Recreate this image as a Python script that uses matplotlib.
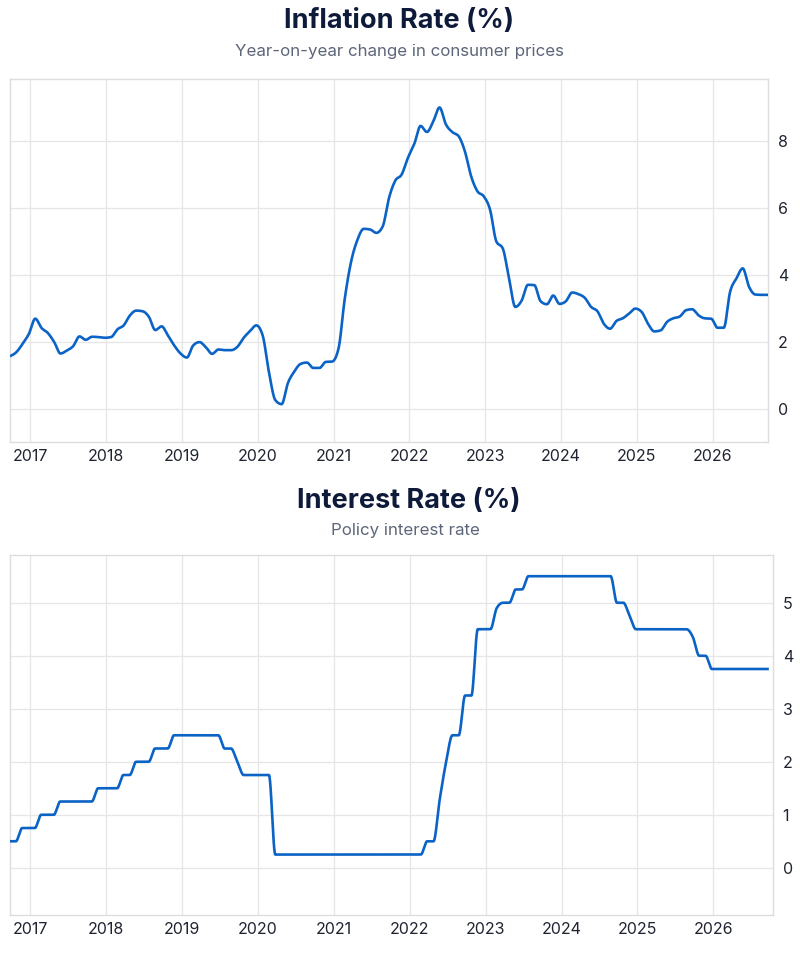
import numpy as np
import pandas as pd
import matplotlib
matplotlib.use("Agg")
import matplotlib.pyplot as plt

# ---------------- data ----------------
months = pd.period_range("2016-10", "2026-10", freq="M")  # monthly observations

inflation = [
    1.58, 1.70, 1.95, 2.25, 2.70, 2.42, 2.27, 2.00, 1.66, 1.75,   # 2016-10 .. 2017-07
    1.88, 2.17, 2.07, 2.16, 2.15, 2.13, 2.15, 2.38, 2.50, 2.80,   # 2017-08 .. 2018-05
    2.94, 2.92, 2.75, 2.36, 2.47, 2.20, 1.90, 1.66, 1.54, 1.90,   # 2018-06 .. 2019-03
    2.00, 1.85, 1.65, 1.78, 1.76, 1.76, 1.86, 2.13, 2.33, 2.50,   # 2019-04 .. 2020-01
    2.20, 1.10, 0.27, 0.15, 0.78, 1.12, 1.35, 1.39, 1.23, 1.23,   # 2020-02 .. 2020-11
    1.41, 1.42, 1.80, 3.30, 4.40, 5.05, 5.38, 5.36, 5.26, 5.45,   # 2020-12 .. 2021-09
    6.30, 6.82, 7.00, 7.50, 7.91, 8.45, 8.27, 8.58, 9.00, 8.50,   # 2021-10 .. 2022-07
    8.27, 8.15, 7.70, 6.95, 6.50, 6.35, 5.95, 5.00, 4.80, 3.90,   # 2022-08 .. 2023-05
    3.05, 3.24, 3.71, 3.70, 3.22, 3.13, 3.39, 3.14, 3.22, 3.48,   # 2023-06 .. 2024-03
    3.43, 3.32, 3.05, 2.92, 2.55, 2.40, 2.63, 2.71, 2.85, 3.00,   # 2024-04 .. 2025-01
    2.90, 2.55, 2.32, 2.35, 2.60, 2.71, 2.76, 2.95, 2.98, 2.80,   # 2025-02 .. 2025-11
    2.71, 2.70, 2.43, 2.43, 3.50, 3.90, 4.20, 3.65, 3.42, 3.41,   # 2025-12 .. 2026-09
    3.41,                                                         # 2026-10
]

interest = [
    0.50, 0.50, 0.75, 0.75, 0.75, 1.00, 1.00, 1.00, 1.25, 1.25,   # 2016-10 .. 2017-07
    1.25, 1.25, 1.25, 1.25, 1.50, 1.50, 1.50, 1.50, 1.75, 1.75,   # 2017-08 .. 2018-05
    2.00, 2.00, 2.00, 2.25, 2.25, 2.25, 2.50, 2.50, 2.50, 2.50,   # 2018-06 .. 2019-03
    2.50, 2.50, 2.50, 2.50, 2.25, 2.25, 2.00, 1.75, 1.75, 1.75,   # 2019-04 .. 2020-01
    1.75, 1.75, 0.25, 0.25, 0.25, 0.25, 0.25, 0.25, 0.25, 0.25,   # 2020-02 .. 2020-11
    0.25, 0.25, 0.25, 0.25, 0.25, 0.25, 0.25, 0.25, 0.25, 0.25,   # 2020-12 .. 2021-09
    0.25, 0.25, 0.25, 0.25, 0.25, 0.25, 0.50, 0.50, 1.30, 2.00,   # 2021-10 .. 2022-07
    2.50, 2.50, 3.25, 3.25, 4.50, 4.50, 4.50, 4.90, 5.00, 5.00,   # 2022-08 .. 2023-05
    5.25, 5.25, 5.50, 5.50, 5.50, 5.50, 5.50, 5.50, 5.50, 5.50,   # 2023-06 .. 2024-03
    5.50, 5.50, 5.50, 5.50, 5.50, 5.50, 5.00, 5.00, 4.75, 4.50,   # 2024-04 .. 2025-01
    4.50, 4.50, 4.50, 4.50, 4.50, 4.50, 4.50, 4.50, 4.35, 4.00,   # 2025-02 .. 2025-11
    4.00, 3.75, 3.75, 3.75, 3.75, 3.75, 3.75, 3.75, 3.75, 3.75,   # 2025-12 .. 2026-09
    3.75,                                                         # 2026-10
]

year_ticks = [2017, 2018, 2019, 2020, 2021, 2022, 2023, 2024, 2025, 2026]
infl_yticks = [0, 2, 4, 6, 8]
rate_yticks = [0, 1, 2, 3, 4, 5]

titles = ["Inflation Rate (%)", "Interest Rate (%)"]
subtitles = ["Year-on-year change in consumer prices", "Policy interest rate"]

# decimal-year position of each monthly observation
xdata = np.asarray(months.year + (months.month - 1) / 12.0 - 0.02, dtype=float)


# --------------- monotone-x curve (render helper) ---------------
def monotone_curve(xs, ys, per=24):
    xs = np.asarray(xs, float)
    ys = np.asarray(ys, float)
    n = len(xs)
    h = np.diff(xs)
    s = np.diff(ys) / h
    t = np.zeros(n)
    for i in range(1, n - 1):
        h0, h1 = h[i - 1], h[i]
        s0, s1 = s[i - 1], s[i]
        p = (s0 * h1 + s1 * h0) / (h0 + h1)
        t[i] = (np.sign(s0) + np.sign(s1)) * min(abs(s0), abs(s1), 0.5 * abs(p))
    t[0] = (3 * s[0] - t[1]) / 2
    t[-1] = (3 * s[-1] - t[-2]) / 2
    out_x, out_y = [], []
    u = np.linspace(0, 1, per, endpoint=False)
    h00 = 2 * u**3 - 3 * u**2 + 1
    h10 = u**3 - 2 * u**2 + u
    h01 = -2 * u**3 + 3 * u**2
    h11 = u**3 - u**2
    for i in range(n - 1):
        out_x.append(xs[i] + u * h[i])
        out_y.append(h00 * ys[i] + h10 * h[i] * t[i] + h01 * ys[i + 1] + h11 * h[i] * t[i + 1])
    out_x.append([xs[-1]])
    out_y.append([ys[-1]])
    return np.concatenate(out_x), np.concatenate(out_y)


# ---------------- figure ----------------
W, H = 800, 956
fig = plt.figure(figsize=(W / 100, H / 100), dpi=100)
fig.patch.set_facecolor("white")

FONT = ["Inter", "DejaVu Sans"]
LINE = "#0b63c6"
GRID = "#e6e6e9"
EDGE = "#dcdde0"
TXT = "#1f2430"
TITLE = "#0e1a3a"
SUB = "#5d6678"


def px_axes(l, t, r, b):
    return fig.add_axes([l / W, 1 - b / H, (r - l) / W, (b - t) / H])


ax1 = px_axes(10, 79, 768, 442)
ax2 = px_axes(10, 555, 773, 915)

specs = [
    (ax1, inflation, infl_yticks, (-0.98, 9.85), (2016.73, 2026.73)),
    (ax2, interest, rate_yticks, (-0.89, 5.9), (2016.736, 2026.785)),
]

for ax, vals, yt, ylim, xlim in specs:
    cx, cy = monotone_curve(xdata, vals)
    ax.plot(cx, cy, color=LINE, lw=1.9, solid_capstyle="butt", solid_joinstyle="round", zorder=3)
    ax.set_xlim(*xlim)
    ax.set_ylim(*ylim)
    ax.set_xticks(year_ticks)
    ax.set_xticklabels([str(y) for y in year_ticks])
    ax.set_yticks(yt)
    ax.set_yticklabels([str(v) for v in yt])
    ax.yaxis.tick_right()
    ax.grid(True, color=GRID, lw=0.9, zorder=0)
    ax.set_axisbelow(True)
    for sp in ax.spines.values():
        sp.set_color(EDGE)
        sp.set_linewidth(1.0)
    ax.tick_params(axis="both", length=0, labelsize=11.5, labelcolor=TXT)
    ax.tick_params(axis="x", pad=5)
    ax.tick_params(axis="y", pad=7)
    for lab in ax.get_xticklabels() + ax.get_yticklabels():
        lab.set_family(FONT)

# titles
fig.text(399.5 / W, 1 - 21.5 / H, titles[0], ha="center", va="center",
         fontsize=19.5, fontweight="bold", color=TITLE, family=FONT)
fig.text(399.5 / W, 1 - 51.5 / H, subtitles[0], ha="center", va="center",
         fontsize=12.2, color=SUB, family=FONT)
fig.text(409 / W, 1 - 500.5 / H, titles[1], ha="center", va="center",
         fontsize=19.5, fontweight="bold", color=TITLE, family=FONT)
fig.text(405 / W, 1 - 531 / H, subtitles[1], ha="center", va="center",
         fontsize=12.2, color=SUB, family=FONT)

fig.savefig("out.png", dpi=100, facecolor="white")
